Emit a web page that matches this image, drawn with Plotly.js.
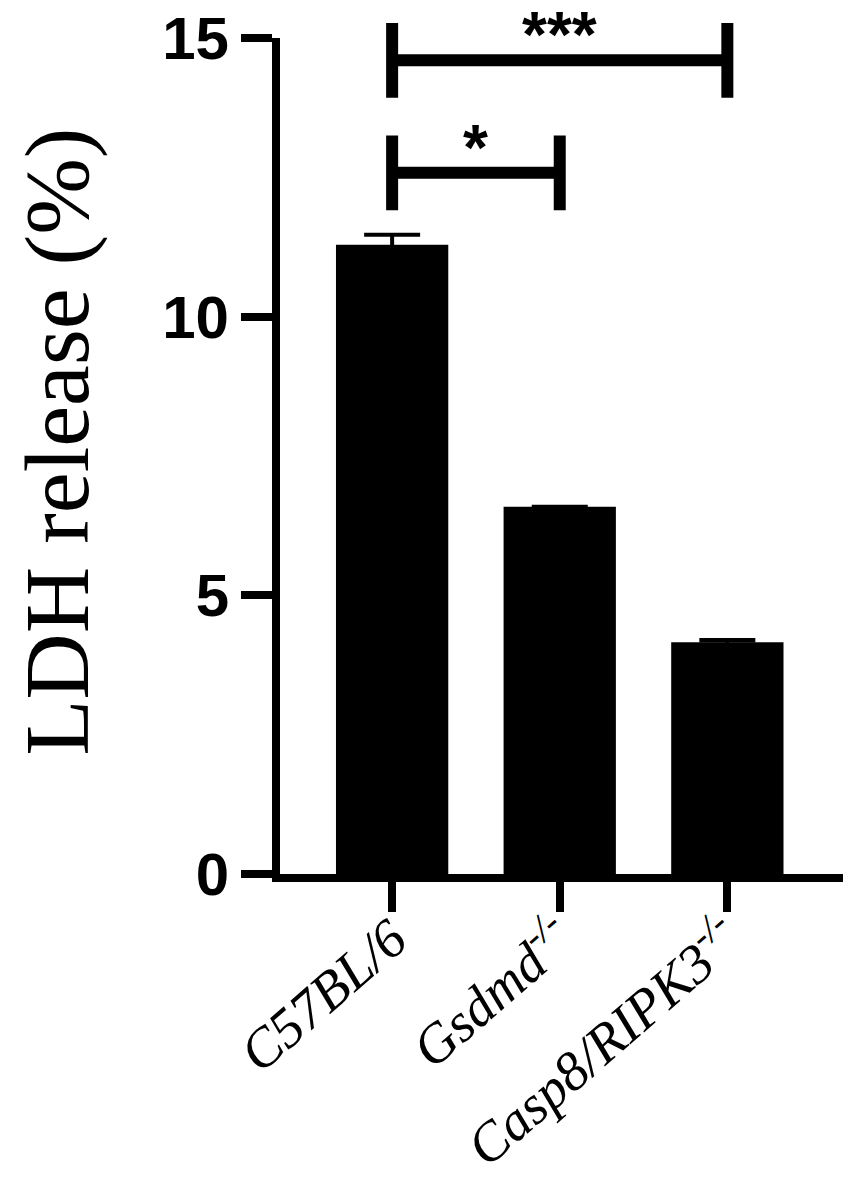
<!DOCTYPE html>
<html>
<head>
<meta charset="utf-8">
<script src="https://cdn.plot.ly/plotly-3.0.1.min.js"></script>
<style>
	html, body { margin: 0; padding: 0; background: #fff; }
	#chart { width: 851px; height: 1182px; }
</style>
</head>
<body>
<div id="chart"></div>
<script>
// --- DONNEES --- //
const groups = ['C57BL/6', 'Gsdmd<sup>-/-</sup>', 'Casp8/RIPK3<sup>-/-</sup>'];
const ldhRelease = [11.29, 6.59, 4.16];
const ldhError = [0.18, null, 0.04];

// comparaisons : [groupe A, groupe B, hauteur du trait, label]
const compFrom = [0, 0];
const compTo = [2, 1];
const compLevel = [14.6, 12.58];
const compLabel = ['***', '*'];

const yRange = [0, 15];
const capHalf = 0.67; // demi-hauteur des barres verticales des crochets

const toPaper = v => (v - yRange[0]) / (yRange[1] - yRange[0]);

const shapes = [];
const annotations = [];
compFrom.forEach((a, i) => {
	const b = compTo[i];
	const lvl = compLevel[i];
	const line = { color: '#000', width: 12 };
	shapes.push({ type: 'line', xref: 'x', yref: 'paper', x0: a, x1: b, y0: toPaper(lvl), y1: toPaper(lvl), line });
	shapes.push({ type: 'line', xref: 'x', yref: 'paper', x0: a, x1: a, y0: toPaper(lvl - capHalf), y1: toPaper(lvl + capHalf), line });
	shapes.push({ type: 'line', xref: 'x', yref: 'paper', x0: b, x1: b, y0: toPaper(lvl - capHalf), y1: toPaper(lvl + capHalf), line });
	annotations.push({
		xref: 'x', yref: 'paper', x: (a + b) / 2, y: toPaper(lvl + 0.45),
		text: compLabel[i], showarrow: false, yanchor: 'middle',
		font: { family: 'Liberation Sans, Arial', size: 64, weight: 'bold', color: '#000' }
	});
});

// titre de l'axe Y (annotation pour le placer exactement)
annotations.push({
	xref: 'paper', yref: 'paper', x: -0.396, y: 0.517,
	xanchor: 'center', yanchor: 'middle', textangle: -90, showarrow: false,
	text: 'LDH release (%)',
	font: { family: 'Liberation Serif, Times New Roman', size: 92, color: '#000' }
});

Plotly.newPlot('chart', [{
	type: 'bar',
	x: [0, 1, 2],
	y: ldhRelease,
	width: 0.67,
	marker: { color: '#000' },
	error_y: { type: 'data', array: ldhError, visible: true, color: '#000', thickness: 4, width: 28 },
	hoverinfo: 'none'
}], {
	width: 851,
	height: 1182,
	margin: { l: 280, r: 8, t: 38, b: 308 },
	paper_bgcolor: '#fff',
	plot_bgcolor: '#fff',
	showlegend: false,
	xaxis: {
		range: [-0.669, 2.69],
		tickvals: [0, 1, 2],
		ticktext: groups,
		tickangle: -41,
		ticklabelstandoff: -27,
		showgrid: false,
		zeroline: false,
		showline: true,
		linecolor: '#000',
		linewidth: 8,
		ticks: 'outside',
		ticklen: 30,
		tickwidth: 8,
		tickcolor: '#000',
		tickfont: { family: 'Liberation Serif, Times New Roman', size: 55, style: 'italic', color: '#000' }
	},
	yaxis: {
		range: yRange,
		dtick: 5,
		showgrid: false,
		zeroline: false,
		showline: true,
		linecolor: '#000',
		linewidth: 8,
		ticks: 'outside',
		ticklen: 31,
		tickwidth: 8,
		tickcolor: '#000',
		tickfont: { family: 'Liberation Sans, Arial', size: 60, weight: 'bold', color: '#000' }
	},
	shapes: shapes,
	annotations: annotations
}, { displayModeBar: false, staticPlot: true });
</script>
</body>
</html>
